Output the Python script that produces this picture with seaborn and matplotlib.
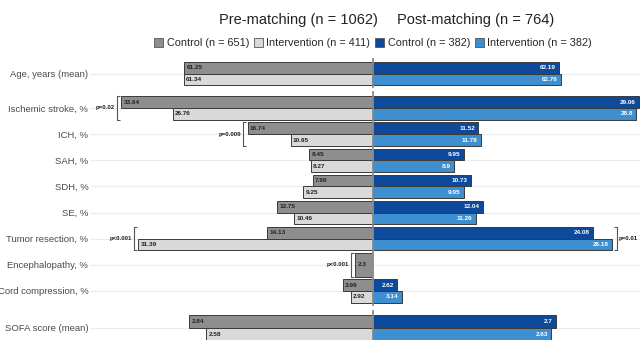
import numpy as np
import pandas as pd
import seaborn as sns
import matplotlib.pyplot as plt
from matplotlib.patches import Patch

sns.set_theme(style="whitegrid")
plt.rcParams['font.family'] = ['Liberation Sans', 'DejaVu Sans']

# ---- data -------------------------------------------------------------
age_rows = ["Age, years (mean)"]
pct_rows = ["Ischemic stroke, %", "ICH, %", "SAH, %", "SDH, %", "SE, %",
            "Tumor resection, %", "Encephalopathy, %", "Cord compression, %"]
sofa_rows = ["SOFA score (mean)"]
groups = ["Control", "Intervention"]

pre_control_age = [61.25]
pre_interv_age = [61.34]
post_control_age = [62.19]
post_interv_age = [62.76]

pre_control_pct = [33.64, 16.74, 8.45, 7.99, 12.75, 14.13, 2.3, 3.99]
pre_interv_pct = [26.76, 10.95, 8.27, 9.25, 10.46, 31.39, np.nan, 2.92]
post_control_pct = [29.06, 11.52, 9.95, 10.73, 12.04, 24.08, np.nan, 2.62]
post_interv_pct = [28.8, 11.78, 8.9, 9.95, 11.26, 26.18, np.nan, 3.14]

pre_control_sofa = [2.84]
pre_interv_sofa = [2.58]
post_control_sofa = [2.7]
post_interv_sofa = [2.63]

pre_pvalues = {"Ischemic stroke, %": "p=0.02", "ICH, %": "p=0.009",
               "Tumor resection, %": "p<0.001", "Encephalopathy, %": "p<0.001"}
post_pvalues = {"Tumor resection, %": "p=0.01"}

titles = ["Pre-matching (n = 1062)", "Post-matching (n = 764)"]
legend_labels = ["Control (n = 651)", "Intervention (n = 411)",
                 "Control (n = 382)", "Intervention (n = 382)"]

pre_colors = ["#8e8e8e", "#d9d9d9"]
post_colors = ["#0d4a9c", "#3e8fd0"]

# ---- layout (pixel based) ---------------------------------------------
W, H, DPI = 640, 340, 100
fig = plt.figure(figsize=(W / DPI, H / DPI), dpi=DPI)


def px_axes(x0, y0, x1, y1):
    return fig.add_axes([x0 / W, 1 - y1 / H, (x1 - x0) / W, (y1 - y0) / H])


LEFT_X = (90, 372.5)
RIGHT_X = (373, 640)

facets = [
    # rows, y-range px, ylim, pre ctrl, pre int, post ctrl, post int, xmax pre, xmax post
    (age_rows, (59, 87), (0.519, -0.558), pre_control_age, pre_interv_age,
     post_control_age, post_interv_age, 91.9, 89.3),
    (pct_rows, (92, 305), (7.536, -0.612), pre_control_pct, pre_interv_pct,
     post_control_pct, post_interv_pct, 37.85, 29.2),
    (sofa_rows, (311, 340), (0.429, -0.607), pre_control_sofa, pre_interv_sofa,
     post_control_sofa, post_interv_sofa, 4.38, 3.94),
]


def long_frame(rows, ctrl, intv):
    df = pd.DataFrame({"row": rows * 2,
                       "group": [groups[0]] * len(rows) + [groups[1]] * len(rows),
                       "value": list(ctrl) + list(intv)})
    return df.dropna()


def draw_side(ax, rows, ctrl, intv, colors, xmax, side, pvals):
    df = long_frame(rows, ctrl, intv)
    counts = df.groupby("row")["value"].count()
    paired = df[df["row"].map(counts) == 2]
    single = df[df["row"].map(counts) == 1]
    edge = "#3a3a3a"
    if len(paired):
        sns.barplot(data=paired, y="row", x="value", hue="group", order=rows,
                    hue_order=groups, palette=colors, width=0.9, saturation=1,
                    errorbar=None, edgecolor=edge, linewidth=0.7, legend=False,
                    orient="h", ax=ax)
    # a row with only one group gets a full-width bar
    for g, col in zip(groups, colors):
        sub = single[single["group"] == g]
        if len(sub):
            sns.barplot(data=sub, y="row", x="value", order=rows, color=col,
                        width=0.9, saturation=1, errorbar=None, edgecolor=edge,
                        linewidth=0.7, orient="h", ax=ax)

    if side == "left":
        ax.set_xlim(xmax, 0)
        width_px = LEFT_X[1] - LEFT_X[0]
    else:
        ax.set_xlim(0, xmax)
        width_px = RIGHT_X[1] - RIGHT_X[0]
    du = xmax / width_px  # data units per pixel

    # value labels inside the outer end of each bar
    for cont in ax.containers:
        for bar, v in zip(cont, cont.datavalues):
            if np.isnan(v):
                continue
            yc = bar.get_y() + bar.get_height() / 2
            if side == "left":
                ax.annotate(f"{v:g}", (v, yc), xytext=(1.6, 0),
                            textcoords="offset points", ha="left", va="center",
                            fontsize=4.6, fontweight="bold", color="#222222")
            else:
                ax.annotate(f"{v:g}", (v, yc), xytext=(-2.4, 0),
                            textcoords="offset points", ha="right", va="center",
                            fontsize=4.6, fontweight="bold", color="white")

    # significance brackets
    for row, label in pvals.items():
        i = rows.index(row)
        vals = df.loc[df["row"] == row, "value"]
        vmax = vals.max()
        xb = vmax + 4.5 * du
        xt = vmax + 1.5 * du
        y0, y1 = i - 0.45, i + 0.45
        ax.plot([xt, xb, xb, xt], [y0, y0, y1, y1], color="#555555", lw=0.8,
                solid_capstyle="butt", clip_on=False)
        ax.text(vmax + 6.5 * du, i, label, ha="right" if side == "left" else "left",
                va="center", fontsize=4.4, fontweight="bold", color="#222222")


for rows, (ya, yb), ylim, pc, pi, qc, qi, xm_pre, xm_post in facets:
    axl = px_axes(LEFT_X[0], ya, LEFT_X[1], yb)
    axr = px_axes(RIGHT_X[0], ya, RIGHT_X[1], yb)
    draw_side(axl, rows, pc, pi, pre_colors, xm_pre, "left",
              {k: v for k, v in pre_pvalues.items() if k in rows})
    draw_side(axr, rows, qc, qi, post_colors, xm_post, "right",
              {k: v for k, v in post_pvalues.items() if k in rows})
    for ax in (axl, axr):
        ax.set_ylim(*ylim)
        ax.set_xticks([])
        ax.set_xlabel("")
        ax.set_ylabel("")
        ax.set_facecolor("none")
        ax.grid(axis="y", color="#ececec", lw=0.8)
        ax.grid(axis="x", visible=False)
        ax.set_axisbelow(True)
        for s in ax.spines.values():
            s.set_visible(False)
        ax.tick_params(axis="y", length=0)
    axl.set_yticks(range(len(rows)))
    axl.set_yticklabels(rows, fontsize=6.8, color="#4a4a4a")
    axl.tick_params(axis="y", pad=1.2)
    axr.set_yticks(range(len(rows)))
    axr.set_yticklabels([])
    axr.spines["left"].set_visible(True)
    axr.spines["left"].set_color("#8a8a8a")
    axr.spines["left"].set_linewidth(1.3)

# ---- titles & legend --------------------------------------------------
fig.text(298 / W, 1 - 20 / H, titles[0], ha="center", va="center",
         fontsize=10.5, color="#222222")
fig.text(476 / W, 1 - 20 / H, titles[1], ha="center", va="center",
         fontsize=10.5, color="#222222")

handles = [Patch(facecolor=c, edgecolor="#555555", linewidth=0.6)
           for c in pre_colors + post_colors]
fig.legend(handles, legend_labels, loc="center", ncol=4,
           bbox_to_anchor=(373 / W, 1 - 43 / H), frameon=False, fontsize=7.8,
           handlelength=0.85, handleheight=0.85, handletextpad=0.3,
           columnspacing=0.45, borderpad=0)

fig.savefig("out.png", dpi=DPI)
